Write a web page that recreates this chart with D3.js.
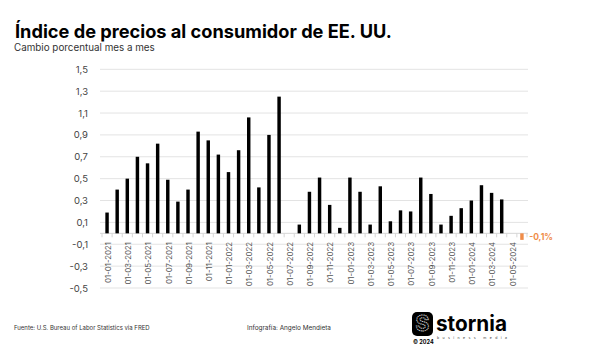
<!DOCTYPE html>
<html><head><meta charset="utf-8">
<script src="https://cdn.jsdelivr.net/npm/d3@7"></script>
<style>body{margin:0;background:#fff}svg{display:block}</style>
</head><body><svg id="c" width="600" height="360"></svg>
<script>
const months = [
 "01-01-2021","01-02-2021","01-03-2021","01-04-2021","01-05-2021","01-06-2021",
 "01-07-2021","01-08-2021","01-09-2021","01-10-2021","01-11-2021","01-12-2021",
 "01-01-2022","01-02-2022","01-03-2022","01-04-2022","01-05-2022","01-06-2022",
 "01-07-2022","01-08-2022","01-09-2022","01-10-2022","01-11-2022","01-12-2022",
 "01-01-2023","01-02-2023","01-03-2023","01-04-2023","01-05-2023","01-06-2023",
 "01-07-2023","01-08-2023","01-09-2023","01-10-2023","01-11-2023","01-12-2023",
 "01-01-2024","01-02-2024","01-03-2024","01-04-2024","01-05-2024","01-06-2024"];
const values = [
 0.19,0.40,0.50,0.70,0.64,0.82,0.49,0.29,0.40,0.93,0.85,0.72,
 0.56,0.76,1.06,0.42,0.90,1.25,0.00,0.08,0.38,0.51,0.26,0.05,
 0.51,0.38,0.08,0.43,0.11,0.21,0.20,0.51,0.36,0.08,0.16,0.23,
 0.30,0.44,0.37,0.31,0.00,-0.06];
const tickLabels = months.filter((m,i)=>i%2===0 && i<=40);
const yTicks = [-0.5,-0.3,-0.1,0.1,0.3,0.5,0.7,0.9,1.1,1.3,1.5];
const lastLabel = "-0,1%";
const title = "Índice de precios al consumidor de EE. UU.";
const subtitle = "Cambio porcentual mes a mes";
const source = "Fuente: U.S. Bureau of Labor Statistics via FRED";
const credit = "Infografía: Angelo Mendieta";

const FONT = "Inter, 'Noto Sans', sans-serif";
const svg = d3.select("#c");

function fit(sel, w){
  const fs = parseFloat(sel.attr("font-size"));
  const len = sel.node().getComputedTextLength();
  sel.attr("font-size", fs*w/len);
  return sel;
}

// Title
fit(svg.append("text").attr("x",15).attr("y",37.5).attr("font-family",FONT)
  .attr("font-weight",700).attr("font-size",18).attr("fill","#000").text(title), 377);
fit(svg.append("text").attr("x",14).attr("y",50.5).attr("font-family",FONT)
  .attr("font-size",9).attr("fill","#333").text(subtitle), 141);

const x = d3.scaleBand().domain(months).range([102,527]).paddingInner(0.66).paddingOuter(0.33);
const y = d3.scaleLinear().domain([-0.5,1.5]).range([288,69.3]);
const xL = 100, xR = 528;

// gridlines
svg.append("g").selectAll("line").data(yTicks).join("line")
  .attr("x1",xL).attr("x2",xR).attr("y1",d=>y(d)).attr("y2",d=>y(d))
  .attr("stroke","#e3e3e3").attr("stroke-width",1);

// y axis
const ya = svg.append("g").attr("transform",`translate(${xL},0)`)
  .call(d3.axisLeft(y).tickValues(yTicks).tickSize(0).tickPadding(12)
  .tickFormat(d=>d3.format(".1f")(d).replace(".",",").replace("−","-")));
ya.select(".domain").remove();
ya.selectAll("text").attr("font-family",FONT).attr("font-size",9.5).attr("fill","#444");

// baseline
const y0 = y(0);
svg.append("line").attr("x1",xL).attr("x2",xR).attr("y1",y0).attr("y2",y0)
  .attr("stroke","#d6d6d6").attr("stroke-width",1);
// category ticks at band boundaries
const bounds = months.map(m=>x(m)-x.step()*x.paddingInner()/2);
bounds.push(x(months[months.length-1])+x.bandwidth()+x.step()*x.paddingInner()/2);
svg.append("g").selectAll("line").data(bounds).join("line")
  .attr("x1",d=>d).attr("x2",d=>d).attr("y1",y0).attr("y2",y0+4)
  .attr("stroke","#d6d6d6").attr("stroke-width",1);

// bars
svg.append("g").selectAll("rect").data(values).join("rect")
  .attr("x",(d,i)=>x(months[i])).attr("width",x.bandwidth())
  .attr("y",d=>Math.min(y(d),y0)).attr("height",d=>Math.abs(y(d)-y0))
  .attr("fill",(d,i)=>i===values.length-1?"#ef8c48":"#000");

// last label
const lm = months[months.length-1];
svg.append("text").attr("x",x(lm)+x.bandwidth()+5.5).attr("y",y0+6.5)
  .attr("font-family",FONT).attr("font-weight",700).attr("font-size",8.5)
  .attr("fill","#ef8c48").text(lastLabel);

// x labels
const xl = svg.append("g").selectAll("text").data(tickLabels).join("text")
  .attr("transform",d=>`translate(${x(d)+x.bandwidth()/2+1},242) rotate(-90)`)
  .attr("dy","0.35em").attr("text-anchor","end")
  .attr("font-family",FONT).attr("font-size",9).attr("fill","#555").text(d=>d);
{
  const len = xl.node().getComputedTextLength();
  xl.attr("font-size",9*41/len);
}

// footer
fit(svg.append("text").attr("x",14).attr("y",330).attr("font-family",FONT)
  .attr("font-size",7).attr("fill","#333").text(source),136);
fit(svg.append("text").attr("x",247).attr("y",330).attr("font-family",FONT)
  .attr("font-size",7).attr("fill","#333").text(credit),84);

// logo
const lg = svg.append("g");
lg.append("rect").attr("x",412).attr("y",312).attr("width",21).attr("height",24).attr("rx",5).attr("fill","#000");
lg.append("text").attr("x",422.5).attr("y",331).attr("text-anchor","middle")
  .attr("font-family",FONT).attr("font-weight",700).attr("font-size",21)
  .attr("fill","none").attr("stroke","#d8d8d8").attr("stroke-width",1).attr("stroke-dasharray","1.2 0.8").text("S");
fit(lg.append("text").attr("x",436).attr("y",330.5).attr("font-family",FONT)
  .attr("font-weight",700).attr("font-size",22).attr("fill","#000").text("stornia"),71);
lg.append("text").attr("x",437).attr("y",338.5).attr("font-family",FONT)
  .attr("font-size",3.5).attr("fill","#333").attr("textLength",70).attr("lengthAdjust","spacing")
  .text("business   media");
lg.append("text").attr("x",413).attr("y",343.5).attr("font-family",FONT)
  .attr("font-weight",700).attr("font-size",5.5).attr("fill","#000").text("© 2024");
</script></body></html>
